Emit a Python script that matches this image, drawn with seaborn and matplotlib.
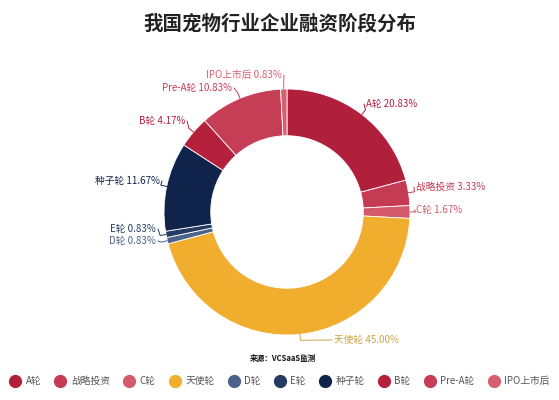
import numpy as np
import seaborn as sns
import matplotlib.pyplot as plt
from matplotlib.lines import Line2D

sns.set_theme(style="white")
plt.rcParams['font.family'] = ['Noto Sans CJK SC', 'DejaVu Sans']

# 数据（顺时针，从12点开始）
stages = ['A轮', '战略投资', 'C轮', '天使轮', 'D轮', 'E轮', '种子轮', 'B轮', 'Pre-A轮', 'IPO上市后']
shares = [20.83, 3.33, 1.67, 45.00, 0.83, 0.83, 11.67, 4.17, 10.83, 0.83]
colors = ['#b01f3c', '#c53b54', '#d45a6b', '#f0ad2e', '#4b6389', '#243b63',
          '#10234a', '#b5203d', '#c63d56', '#d6606f']
label_colors = ['#b01f3c', '#c53b54', '#d45a6b', '#c9a545', '#4b6389', '#243b63',
                '#10234a', '#b5203d', '#c63d56', '#d6606f']

# 标签位置（像素坐标，y 从上往下）
label_pos = [(366, 104, 'left'), (416, 187, 'left'), (416, 210, 'left'),
             (334, 340, 'left'), (156, 241, 'right'), (156, 229, 'right'),
             (160, 181, 'right'), (185, 121, 'right'), (232, 88, 'right'),
             (282, 75, 'right')]

W, H = 559, 400
fig = plt.figure(figsize=(W / 100, H / 100), dpi=100)
ax = fig.add_axes([0, 0, 1, 1])
ax.set_xlim(0, W)
ax.set_ylim(0, H)
ax.axis('off')

cx, cy, R = 287, H - 212, 123
wedges, _ = ax.pie(shares, colors=colors, startangle=90, counterclock=False,
                   center=(cx, cy), radius=R,
                   wedgeprops=dict(width=R * 0.38, edgecolor='white', linewidth=0.6))
ax.set_xlim(0, W)
ax.set_ylim(0, H)
ax.set_aspect('equal')

for w, name, val, col, (tx, ty, ha) in zip(wedges, stages, shares, label_colors, label_pos):
    ang = np.deg2rad((w.theta1 + w.theta2) / 2)
    ex, ey = cx + R * np.cos(ang), cy + R * np.sin(ang)
    bx, by = cx + (R + 6) * np.cos(ang), cy + (R + 6) * np.sin(ang)
    ty_d = H - ty
    endx = tx - 2 if ha == 'left' else tx + 2
    ax.plot([ex, bx, endx], [ey, by, ty_d], color=col, lw=0.7)
    ax.text(tx, ty_d, f'{name} {val:.2f}%', ha=ha, va='center', fontsize=7, color=col)

fig.text(0.5, 1 - 24 / H, '我国宠物行业企业融资阶段分布', ha='center', va='center',
         fontsize=14, fontweight='bold', color='#222222')
fig.text(250 / W, 1 - 358 / H, '来源：VCSaaS监测', ha='left', va='center',
         fontsize=5.5, fontweight='bold', color='#111111')

handles = [Line2D([0], [0], marker='o', linestyle='', markersize=8.5,
                  markerfacecolor=c, markeredgecolor=c) for c in colors]
fig.legend(handles, stages, loc='center', bbox_to_anchor=(0.5, 1 - 381 / H), ncol=10,
           frameon=False, fontsize=7, handletextpad=0.5, columnspacing=1.35,
           handlelength=1.2, labelcolor='#555555', borderaxespad=0, borderpad=0)

fig.savefig('out.png', dpi=100)
